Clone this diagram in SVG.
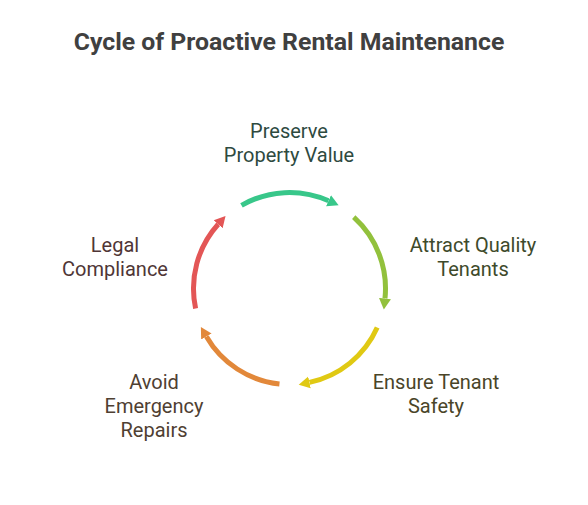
<svg xmlns="http://www.w3.org/2000/svg" width="588" height="505" viewBox="0 0 588 505">
<style>
.t{font-family:Roboto,"Liberation Sans",sans-serif;font-size:20px;text-anchor:middle}
.title{font-family:Roboto,"Liberation Sans",sans-serif;font-size:24.8px;font-weight:bold;fill:#404040;text-anchor:middle}
.arc{fill:none;stroke-width:5}
</style>
<defs>
<marker id="mg" markerUnits="userSpaceOnUse" markerWidth="12" markerHeight="14" refX="0" refY="7" orient="auto"><path d="M0,1 L11,7 L0,13 z" fill="#38c78a"/></marker>
<marker id="mo" markerUnits="userSpaceOnUse" markerWidth="12" markerHeight="14" refX="0" refY="7" orient="auto"><path d="M0,1 L11,7 L0,13 z" fill="#92c13c"/></marker>
<marker id="my" markerUnits="userSpaceOnUse" markerWidth="12" markerHeight="14" refX="0" refY="7" orient="auto"><path d="M0,1 L11,7 L0,13 z" fill="#e0c913"/></marker>
<marker id="mr" markerUnits="userSpaceOnUse" markerWidth="12" markerHeight="14" refX="0" refY="7" orient="auto"><path d="M0,1 L11,7 L0,13 z" fill="#e2883a"/></marker>
<marker id="md" markerUnits="userSpaceOnUse" markerWidth="12" markerHeight="14" refX="0" refY="7" orient="auto"><path d="M0,1 L11,7 L0,13 z" fill="#e35656"/></marker>
</defs>
<rect width="588" height="505" fill="#ffffff"/>
<text class="title" x="289" y="50">Cycle of Proactive Rental Maintenance</text>
<g id="connectors">
<path class="arc" stroke="#38c78a" marker-end="url(#mg)" d="M241.5,205.36 A96,96 0 0 1 328.55,200.8"/>
<path class="arc" stroke="#92c13c" marker-end="url(#mo)" d="M353.74,217.16 A96,96 0 0 1 384.97,298.53"/>
<path class="arc" stroke="#e0c913" marker-end="url(#my)" d="M377.2,327.55 A96,96 0 0 1 309.46,382.4"/>
<path class="arc" stroke="#e2883a" marker-end="url(#mr)" d="M279.47,383.97 A96,96 0 0 1 206.36,336.5"/>
<path class="arc" stroke="#e35656" marker-end="url(#md)" d="M195.6,308.46 A96,96 0 0 1 218.16,224.26"/>
</g>
<g id="node-preserve"><text class="t" fill="#2e4a3f" x="289" y="138">Preserve</text><text class="t" fill="#2e4a3f" x="289" y="162">Property Value</text></g>
<g id="node-attract"><text class="t" fill="#3e4a2b" x="473" y="252">Attract Quality</text><text class="t" fill="#3e4a2b" x="473" y="276">Tenants</text></g>
<g id="node-ensure"><text class="t" fill="#4a4528" x="436" y="389">Ensure Tenant</text><text class="t" fill="#4a4528" x="436" y="413">Safety</text></g>
<g id="node-avoid"><text class="t" fill="#4f4032" x="154" y="389">Avoid</text><text class="t" fill="#4f4032" x="154" y="413">Emergency</text><text class="t" fill="#4f4032" x="154" y="437">Repairs</text></g>
<g id="node-legal"><text class="t" fill="#4f3636" x="115" y="252">Legal</text><text class="t" fill="#4f3636" x="115" y="276">Compliance</text></g>
</svg>
